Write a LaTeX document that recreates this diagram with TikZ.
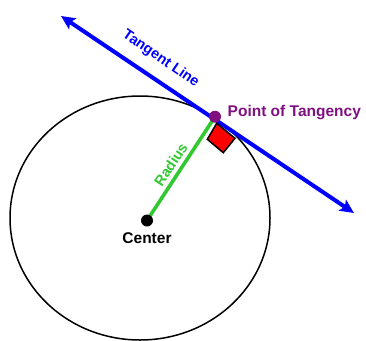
\documentclass[tikz,border=0pt]{standalone}
\usepackage{fontspec}
\setmainfont{Liberation Sans}
\usetikzlibrary{arrows.meta}
\definecolor{tblue}{RGB}{0,0,255}
\definecolor{tgreen}{RGB}{50,200,50}
\definecolor{tpurple}{RGB}{128,16,128}
\definecolor{tred}{RGB}{255,0,0}
\tikzset{
  lbl/.style={font=\fontsize{15.5}{18}\selectfont\bfseries, inner sep=0pt},
  dotnode/.style={circle, minimum size=12pt, inner sep=0pt},
  tline/.style={draw=tblue, line width=4pt, {Stealth[length=14pt,width=13pt,inset=3pt]}-{Stealth[length=14pt,width=13pt,inset=3pt]}},
  rline/.style={draw=tgreen, line width=3.6pt},
}
\begin{document}
\begin{tikzpicture}[x=1pt,y=-1pt]
\useasboundingbox (0,0) rectangle (366,340);
\begin{scope}
\clip (0,0) rectangle (366,340);
\draw[line width=1.5pt] (140,218) ellipse [x radius=130, y radius=122];
\end{scope}
\coordinate (A) at (61,16);
\coordinate (B) at (354,213);
\node[dotnode] (C) at (147,220.5) {};
\node[dotnode] (T) at (215,116.7) {};
\draw[rline] (C.center) -- (T.center);
\draw[tline] (A) -- (B);
\draw[fill=tred, line width=1.5pt, line join=miter] (216.7,123.3) -- (235,138.3) -- (223.3,152.7) -- (207.3,139.3) -- cycle;
\fill (C) circle (6);
\fill[tpurple] (T) circle (6);
\node[lbl, anchor=base] (cl) at (147,243.5) {Center};
\node[lbl, anchor=base west, text=tpurple] (pl) at (227.5,116.5) {Point of Tangency};
\node[lbl, font=\fontsize{14.5}{17}\selectfont\bfseries, anchor=base, rotate=-34.4, text=tblue] (tl) at (158.6,62) {Tangent Line};
\node[lbl, font=\fontsize{14.5}{17}\selectfont\bfseries, anchor=base, rotate=56.6, text=tgreen] (rl) at (175.1,167.5) {Radius};
\end{tikzpicture}
\end{document}
